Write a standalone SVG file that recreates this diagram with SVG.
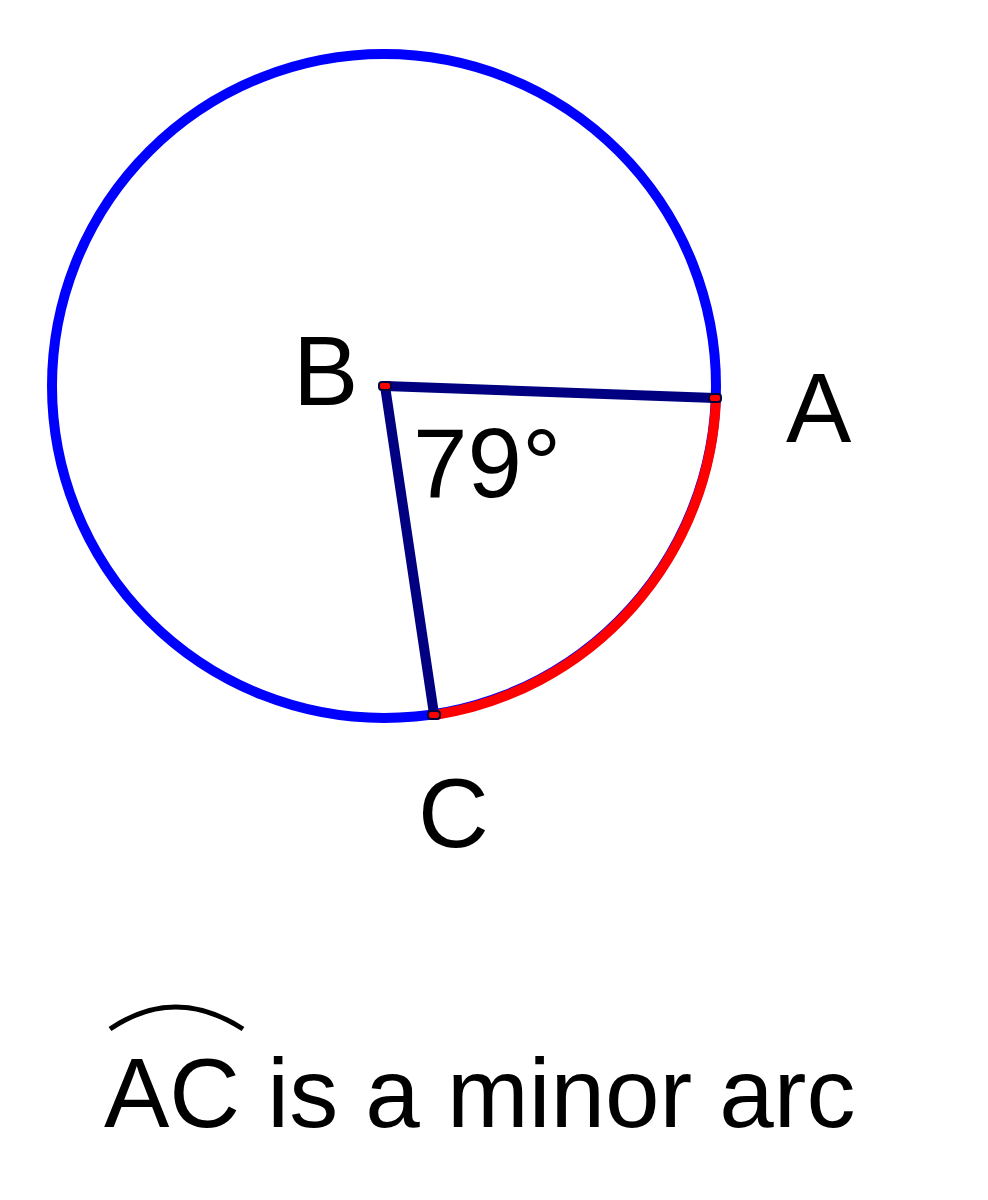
<svg xmlns="http://www.w3.org/2000/svg" width="988" height="1200" viewBox="0 0 988 1200">
<style>
.lbl{font-family:"Liberation Sans",Arial,sans-serif;font-size:98px;fill:#000}
.seg{stroke:#000080;stroke-width:10;fill:none;stroke-linecap:round}
.pt{fill:#ff0000;stroke:#000040;stroke-width:2}
</style>
<rect width="988" height="1200" fill="#ffffff"/>
<g id="circle">
<circle cx="384" cy="386" r="332" fill="none" stroke="#0000ff" stroke-width="10"/>
<path d="M716,398 A332,332 0 0 1 435,715" fill="none" stroke="#ff0000" stroke-width="10"/>
</g>
<g id="connectors">
<line class="seg" x1="385" y1="386" x2="715" y2="398"/>
<line class="seg" x1="385" y1="386" x2="434" y2="714"/>
</g>
<g id="B">
<rect class="pt" x="379" y="382" width="12" height="8" rx="3"/>
<text class="lbl" x="293" y="405">B</text>
</g>
<g id="A">
<rect class="pt" x="709" y="394" width="12" height="8" rx="3"/>
<text class="lbl" x="786" y="442">A</text>
</g>
<g id="C">
<rect class="pt" x="428" y="711" width="12" height="8" rx="3"/>
<text class="lbl" x="418" y="847">C</text>
</g>
<g id="angle">
<text class="lbl" x="413" y="497">79°</text>
</g>
<g id="caption">
<path d="M110,1029 Q175,985 243,1029" fill="none" stroke="#000" stroke-width="5"/>
<text class="lbl" x="104" y="1127">AC is a minor arc</text>
</g>
</svg>
